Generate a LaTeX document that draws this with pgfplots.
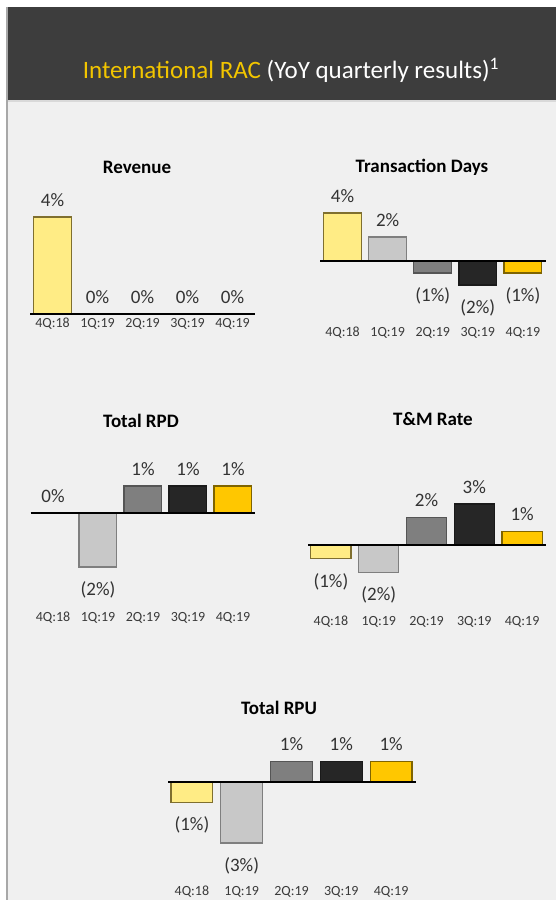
\documentclass[border=0pt]{standalone}
\usepackage{fontspec}
\setmainfont{Carlito}
\usepackage{pgfplots}
\pgfplotsset{compat=1.18}
\definecolor{hdr}{HTML}{3D3D3D}
\definecolor{bg}{HTML}{F0F0F0}
\definecolor{edge}{HTML}{A8A8A8}
\definecolor{ttl}{HTML}{F2C500}
\definecolor{txt}{HTML}{333333}
\definecolor{tck}{HTML}{3A3A3A}
\definecolor{ca}{HTML}{FFEC85}\definecolor{cad}{HTML}{7F6F2F}
\definecolor{cb}{HTML}{C8C8C8}\definecolor{cbd}{HTML}{7F7F7F}
\definecolor{cc}{HTML}{7F7F7F}\definecolor{ccd}{HTML}{555555}
\definecolor{cd}{HTML}{262626}\definecolor{cdd}{HTML}{1A1A1A}
\definecolor{ce}{HTML}{FFC700}\definecolor{ced}{HTML}{7F6400}
\pgfplotsset{
  panel/.style={
    scale only axis, ybar, bar width=0.84, bar shift=0pt, clip=false,
    enlargelimits=false,
    axis x line*=bottom, axis y line=none, x axis line style={draw=none},
    xtick={0,1,2,3,4}, xticklabels={4Q:18,1Q:19,2Q:19,3Q:19,4Q:19},
    major tick length=0pt,
    xticklabel style={anchor=center, inner sep=0pt, font=\fontsize{14bp}{16bp}\selectfont, text=tck},
    anchor=south west,
  },
  lab/.style={nodes near coords, point meta=explicit symbolic,
    every node near coord/.append style={font=\fontsize{19bp}{21bp}\selectfont,
      inner ysep=10bp, inner xsep=0pt, text=txt, anchor=south}},
  labn/.style={nodes near coords, point meta=explicit symbolic,
    every node near coord/.append style={font=\fontsize{19bp}{21bp}\selectfont,
      inner ysep=10bp, inner xsep=0pt, text=txt, anchor=north, yshift=-4bp}},
  ba/.style={#1, fill=ca, draw=cad, line width=1.2bp},
  bb/.style={#1, fill=cb, draw=cbd, line width=1.2bp},
  bc/.style={#1, fill=cc, draw=ccd, line width=1.2bp},
  bd/.style={#1, fill=cd, draw=cdd, line width=1.2bp},
  be/.style={#1, fill=ce, draw=ced, line width=1.2bp},
  zl/.style={sharp plot, draw=black, fill=none, mark=none, line width=2.2bp, forget plot},
}
\begin{document}
\begin{tikzpicture}
\path[use as bounding box] (0,0) rectangle (556bp,902bp);
\fill[white] (0,0) rectangle (556bp,902bp);
\fill[bg] (6bp,2bp) rectangle (556bp,802bp);
\fill[hdr] (6bp,802bp) rectangle (556bp,895bp);
\fill[black!15] (6bp,800bp) rectangle (556bp,802bp);
\draw[edge, line width=1.5bp] (6.75bp,2bp) -- (6.75bp,895bp);
\node[anchor=base, font=\fontsize{25bp}{30bp}\selectfont, inner sep=0pt] at (291bp,823bp)
  {\textcolor{ttl}{International RAC} \textcolor{white}{(YoY quarterly results)\textsuperscript{1}}};
\begin{scope}[every node/.style={anchor=base, inner sep=0pt, font=\fontsize{19bp}{22bp}\selectfont\bfseries, text=black}]
\node at (137bp,728bp) {Revenue};
\node at (422bp,729bp) {Transaction Days};
\node at (141bp,474bp) {Total RPD};
\node at (433bp,476bp) {T\&M Rate};
\node at (279bp,187bp) {Total RPU};
\end{scope}
% Revenue
\begin{axis}[panel, at={(30bp,578bp)}, width=225bp, height=121.5bp,
  xmin=-0.5, xmax=4.5, ymin=-0.412, ymax=4.6]
\addplot[ba=lab] coordinates {(0,4) [4\%]};
\addplot[bb=lab] coordinates {(1,0) [0\%]};
\addplot[bc=lab] coordinates {(2,0) [0\%]};
\addplot[bd=lab] coordinates {(3,0) [0\%]};
\addplot[be=lab] coordinates {(4,0) [0\%]};
\addplot[zl] coordinates {(-0.5,0) (4.5,0)};
\end{axis}
% Transaction Days
\begin{axis}[panel, at={(320bp,569bp)}, width=225.5bp, height=132bp,
  xmin=-0.5, xmax=4.5, ymin=-6, ymax=5]
\addplot[ba=lab] coordinates {(0,4) [4\%]};
\addplot[bb=lab] coordinates {(1,2) [2\%]};
\addplot[bc=labn] coordinates {(2,-1) [(1\%)]};
\addplot[bd=labn] coordinates {(3,-2) [(2\%)]};
\addplot[be=labn] coordinates {(4,-1) [(1\%)]};
\addplot[zl] coordinates {(-0.5,0) (4.5,0)};
\end{axis}
% Total RPD
\begin{axis}[panel, at={(30.5bp,284bp)}, width=225bp, height=145.5bp,
  xmin=-0.5, xmax=4.5, ymin=-3.889, ymax=1.5]
\addplot[ba=lab] coordinates {(0,0) [0\%]};
\addplot[bb=labn] coordinates {(1,-2) [(2\%)]};
\addplot[bc=lab] coordinates {(2,1) [1\%]};
\addplot[bd=lab] coordinates {(3,1) [1\%]};
\addplot[be=lab] coordinates {(4,1) [1\%]};
\addplot[zl] coordinates {(-0.5,0) (4.5,0)};
\end{axis}
% T&M Rate
\begin{axis}[panel, at={(308bp,280bp)}, width=238bp, height=124.9bp,
  xmin=-0.48, xmax=4.5, ymin=-5.62, ymax=3.5]
\addplot[ba=labn] coordinates {(0,-1) [(1\%)]};
\addplot[bb=labn] coordinates {(1,-2) [(2\%)]};
\addplot[bc=lab] coordinates {(2,2) [2\%]};
\addplot[bd=lab] coordinates {(3,3) [3\%]};
\addplot[be=lab] coordinates {(4,1) [1\%]};
\addplot[zl] coordinates {(-0.48,0) (4.5,0)};
\end{axis}
% Total RPU
\begin{axis}[panel, at={(168bp,10bp)}, width=248bp, height=140.4bp,
  xmin=-0.48, xmax=4.5, ymin=-5.419, ymax=1.5]
\addplot[ba=labn] coordinates {(0,-1) [(1\%)]};
\addplot[bb=labn] coordinates {(1,-3) [(3\%)]};
\addplot[bc=lab] coordinates {(2,1) [1\%]};
\addplot[bd=lab] coordinates {(3,1) [1\%]};
\addplot[be=lab] coordinates {(4,1) [1\%]};
\addplot[zl] coordinates {(-0.48,0) (4.5,0)};
\end{axis}
\end{tikzpicture}
\end{document}
